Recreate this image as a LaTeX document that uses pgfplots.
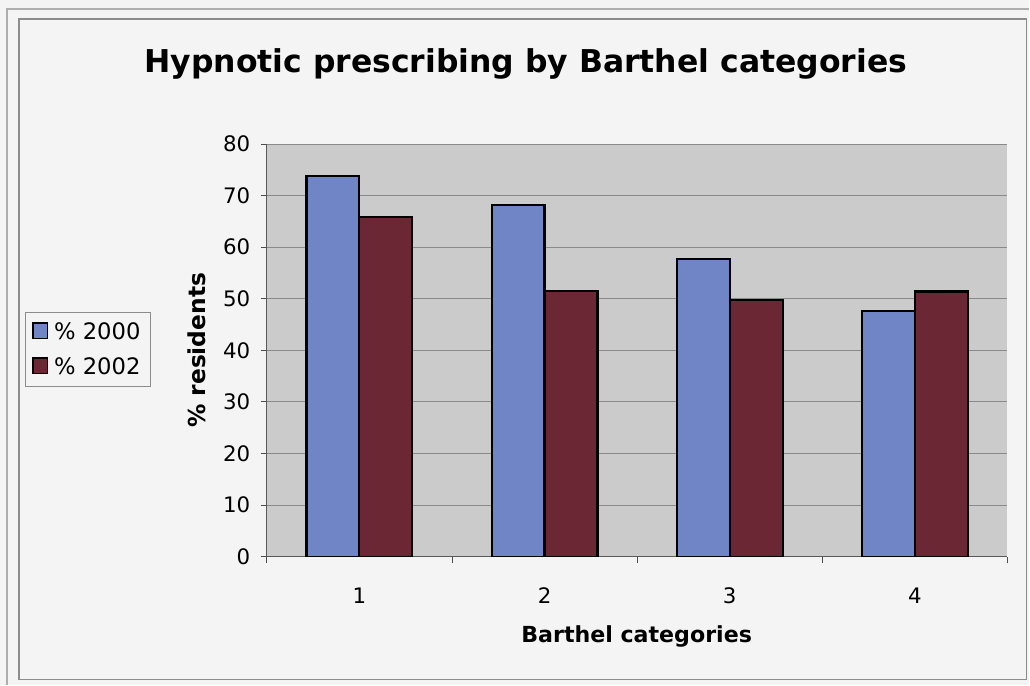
\documentclass[border=0pt]{standalone}
\usepackage{pgfplots}
\pgfplotsset{compat=1.18}
\usepackage{fontspec}
\setmainfont{DejaVu Sans}

\definecolor{barblue}{HTML}{6F85C6}
\definecolor{barred}{HTML}{6B2834}
\definecolor{plotbg}{HTML}{CBCBCB}
\definecolor{pagebg}{HTML}{F4F4F4}
\definecolor{gridgray}{HTML}{8A8A8A}
\definecolor{framegray}{HTML}{8C8C8C}

\begin{document}
\begin{tikzpicture}
% page background and frame (1px = 0.75pt)
\fill[pagebg] (0pt,0pt) rectangle (772.5pt,513.75pt);
\draw[framegray, line width=0.9pt] (14.25pt,3.75pt) rectangle (770.25pt,499.5pt);
\draw[framegray!70, line width=0.9pt] (5.25pt,0pt) -- (5.25pt,507pt) -- (772.5pt,507pt);

\begin{axis}[
    at={(200.25pt,96pt)}, anchor=south west,
    scale only axis,
    width=555.75pt, height=309.75pt,
    ybar=0pt, bar width=39.75pt,
    xmin=0.5, xmax=4.5,
    ymin=0, ymax=80,
    ytick={0,10,...,80},
    xtick={0.5,1.5,2.5,3.5,4.5},
    xticklabels={},
    extra x ticks={1,2,3,4},
    extra x tick labels={1,2,3,4},
    extra x tick style={major tick length=0pt, xticklabel style={yshift=-20pt}},
    yticklabel style={xshift=-4.5pt},
    tick align=outside,
    major tick length=4.5pt,
    tick style={black!70, line width=0.6pt},
    axis x line*=bottom, axis y line*=left,
    axis line style={black!65, line width=0.7pt},
    axis background/.style={fill=plotbg},
    ymajorgrids, grid style={gridgray, line width=0.6pt},
    tick label style={font=\fontsize{16}{19}\selectfont},
    /pgf/number format/assume math mode=true,
    ylabel={\textbf{\% residents}},
    ylabel style={at={(axis description cs:-0.0945,0.5)}, anchor=center, font=\fontsize{17.5}{21}\selectfont},
    xlabel={\textbf{Barthel categories}},
    xlabel style={at={(axis description cs:0.4993,-0.1937)}, anchor=center, font=\fontsize{16.6}{20}\selectfont},
    title={\textbf{Hypnotic prescribing by Barthel categories}},
    title style={at={(axis description cs:0.3495,1.1525)}, anchor=base, font=\fontsize{23.6}{28}\selectfont},
    legend style={at={(axis description cs:-0.3266,0.5024)}, anchor=west,
        draw=framegray, fill=pagebg, font=\fontsize{17}{20}\selectfont,
        inner xsep=5pt, inner ysep=5.5pt, row sep=8pt},
    legend cell align=left,
]
\addplot[fill=barblue, draw=black, line width=1.6pt,
    legend image code/.code={\path[draw=none, fill=none] (0pt,0pt) rectangle (14.5pt,1pt);
        \draw[fill=barblue, draw=black, line width=1.3pt] (0.5pt,-5pt) rectangle (11.5pt,6.5pt);}]
    coordinates {(1,73.7) (2,68.2) (3,57.7) (4,47.6)};
\addlegendentry{\% 2000}
\addplot[fill=barred, draw=black, line width=1.6pt,
    legend image code/.code={\path[draw=none, fill=none] (0pt,0pt) rectangle (14.5pt,1pt);
        \draw[fill=barred, draw=black, line width=1.3pt] (0.5pt,-5pt) rectangle (11.5pt,6.5pt);}]
    coordinates {(1,65.9) (2,51.5) (3,49.8) (4,51.4)};
\addlegendentry{\% 2002}
\end{axis}
\end{tikzpicture}
\end{document}
